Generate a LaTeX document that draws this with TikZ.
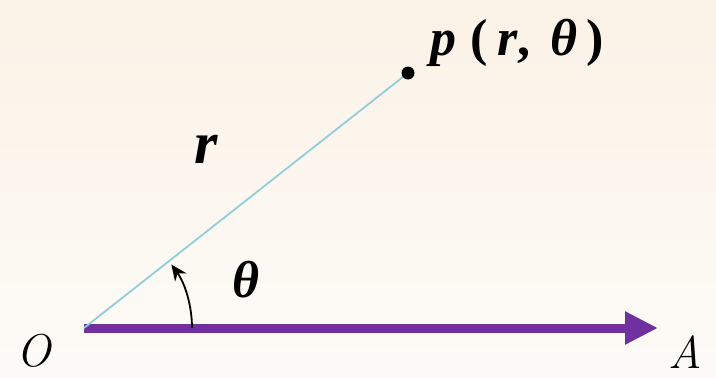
\documentclass[tikz,border=0pt]{standalone}
\usepackage{fontspec}
\newfontfamily\tnr{Liberation Serif}
\usetikzlibrary{arrows.meta}
\definecolor{axispurple}{HTML}{7030A0}
\definecolor{raycyan}{HTML}{92CDDC}
\definecolor{bgtop}{HTML}{FBF2E6}
\definecolor{bgbot}{HTML}{FDFBF8}
\tikzset{
  lbl/.style={inner sep=0pt, text=black},
  bigmath/.style={lbl, font=\tnr\bfseries\itshape\fontsize{52}{60}\selectfont},
  thinmath/.style={lbl, font=\itshape\fontsize{46}{52}\selectfont},
}
\begin{document}
\begin{tikzpicture}[x=1pt,y=-1pt]
\useasboundingbox (0,0) rectangle (716,378);
\shade[top color=bgtop, bottom color=bgbot] (0,0) rectangle (716,378);
\coordinate (O) at (84,328);
\coordinate (P) at (408,73);
\coordinate (Aend) at (658,328);
% polar axis
\draw[axispurple, line width=9pt, -{Triangle[length=33pt,width=31pt]}] (O) -- (Aend);
% ray
\draw[raycyan, line width=1.8pt] (O) -- (P);
% point
\fill[black] (P) circle (6.5pt);
% angle arc
\draw[black, line width=1.8pt, -{Stealth[length=16pt,width=14pt]}] ([xshift=108pt]O) arc[start angle=0, end angle=36, radius=108pt];
% labels
\node[bigmath, anchor=base west] (plbl) at (430,55) {p\hspace{0.28em}\upshape(\hspace{0.18em}\itshape r\upshape,\hspace{0.38em}\itshape θ\hspace{0.18em}\upshape)};
\node[bigmath, font=\tnr\bfseries\itshape\fontsize{60}{66}\selectfont, anchor=base west] (rlbl) at (194,163) {r};
\node[bigmath, anchor=base west] (tlbl) at (232,297) {θ};
\node[thinmath, anchor=base west] (Olbl) at (16,366) {O};
\node[thinmath, anchor=base west] (Albl) at (668,368) {A};
\end{tikzpicture}
\end{document}
